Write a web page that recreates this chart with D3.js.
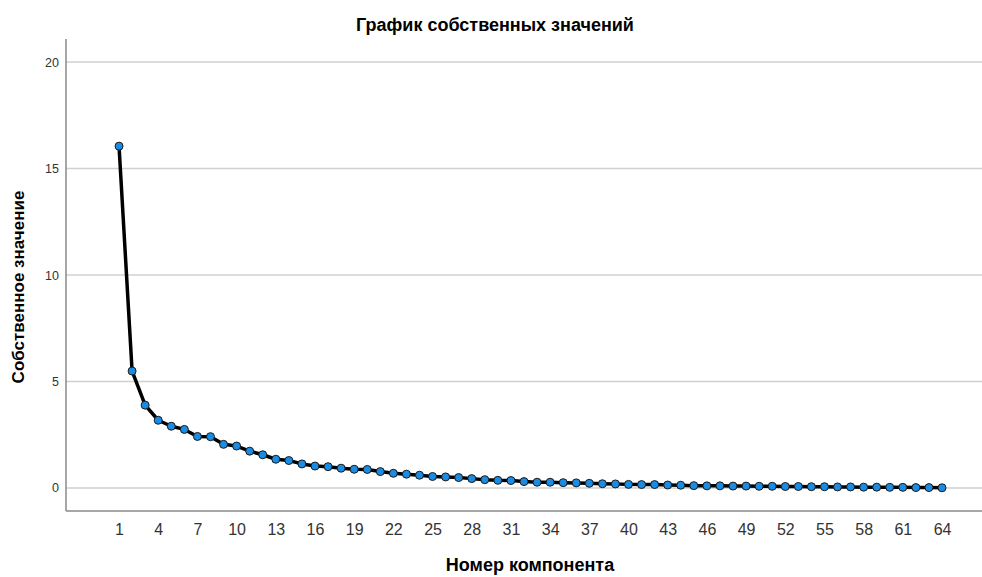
<!DOCTYPE html>
<html lang="ru">
<head>
    <meta charset="UTF-8">
    <title>График собственных значений</title>
    <script src="https://d3js.org/d3.v7.min.js"></script>
    <style>
        body { margin: 0; background: white; }
        text { font-family: "Liberation Sans", Arial, sans-serif; }
    </style>
</head>
<body>
<svg id="main" width="982" height="577"></svg>
<script>
    // component numbers and eigenvalues
    let components = d3.range(1, 65);
    let eigenvalues = [
        16.05, 5.49, 3.89, 3.18, 2.90, 2.75, 2.42, 2.41, 2.05, 1.97,
        1.73, 1.56, 1.35, 1.29, 1.13, 1.03, 1.00, 0.93, 0.88, 0.87,
        0.77, 0.69, 0.65, 0.60, 0.54, 0.52, 0.49, 0.44, 0.39, 0.36,
        0.35, 0.30, 0.27, 0.27, 0.25, 0.24, 0.22, 0.20, 0.19, 0.17,
        0.16, 0.16, 0.14, 0.13, 0.11, 0.10, 0.10, 0.09, 0.09, 0.08,
        0.08, 0.07, 0.07, 0.06, 0.06, 0.05, 0.05, 0.04, 0.04, 0.03,
        0.03, 0.02, 0.02, 0.01
    ];
    let xTicks = d3.range(1, 65, 3);
    let yTicks = [0, 5, 10, 15, 20];

    let data = components.map(function (c, i) { return {comp: c, val: eigenvalues[i]}; });

    let svg = d3.select('svg#main');
    let plot = {left: 66, right: 982, top: 39, bottom: 511};

    let x = d3.scaleLinear().domain([-3.06, 67.06]).range([plot.left, plot.right]);
    let y = d3.scaleLinear().domain([-1.08, 21.08]).range([plot.bottom, plot.top]);

    // gridlines
    svg.append('g').selectAll('line').data(yTicks).join('line')
        .attr('x1', plot.left).attr('x2', plot.right)
        .attr('y1', function (d) { return y(d); }).attr('y2', function (d) { return y(d); })
        .style('stroke', '#d0d0d0').style('stroke-width', '1.5px');

    // axes lines
    svg.append('line')
        .attr('x1', plot.left).attr('x2', plot.left)
        .attr('y1', plot.top).attr('y2', plot.bottom)
        .style('stroke', '#8a8a8a').style('stroke-width', '1.5px');
    svg.append('line')
        .attr('x1', plot.left).attr('x2', plot.right)
        .attr('y1', plot.bottom).attr('y2', plot.bottom)
        .style('stroke', '#8a8a8a').style('stroke-width', '1.5px');

    // tick labels through d3 axes, no tick marks
    let yAxis = svg.append('g')
        .attr('transform', 'translate(' + plot.left + ',0)')
        .call(d3.axisLeft(y).tickValues(yTicks).tickSize(0).tickPadding(7));
    yAxis.select('.domain').remove();
    yAxis.selectAll('text').style('font-size', '12.5px').style('fill', '#333');

    let xAxis = svg.append('g')
        .attr('transform', 'translate(0,' + plot.bottom + ')')
        .call(d3.axisBottom(x).tickValues(xTicks).tickSize(0).tickPadding(13));
    xAxis.select('.domain').remove();
    xAxis.selectAll('text').style('font-size', '16px').style('fill', '#333');

    // line
    let line = d3.line()
        .x(function (d) { return x(d.comp); })
        .y(function (d) { return y(d.val); });
    svg.append('path').datum(data)
        .attr('d', line)
        .style('fill', 'none')
        .style('stroke', 'black')
        .style('stroke-width', '3.5px')
        .style('stroke-linejoin', 'round');

    // markers
    svg.append('g').selectAll('circle').data(data).join('circle')
        .attr('cx', function (d) { return x(d.comp); })
        .attr('cy', function (d) { return y(d.val); })
        .attr('r', 4)
        .style('fill', '#1b8ce3')
        .style('stroke', '#1a1a1a')
        .style('stroke-width', '1px');

    // titles
    svg.append('text')
        .attr('x', 495).attr('y', 31)
        .attr('text-anchor', 'middle')
        .style('font-size', '18px').style('font-weight', 'bold')
        .text('График собственных значений');
    svg.append('text')
        .attr('x', 530).attr('y', 571)
        .attr('text-anchor', 'middle')
        .style('font-size', '18px').style('font-weight', 'bold')
        .text('Номер компонента');
    svg.append('text')
        .attr('transform', 'translate(24,287) rotate(-90)')
        .attr('text-anchor', 'middle')
        .style('font-size', '17px').style('font-weight', 'bold')
        .text('Собственное значение');
</script>
</body>
</html>
